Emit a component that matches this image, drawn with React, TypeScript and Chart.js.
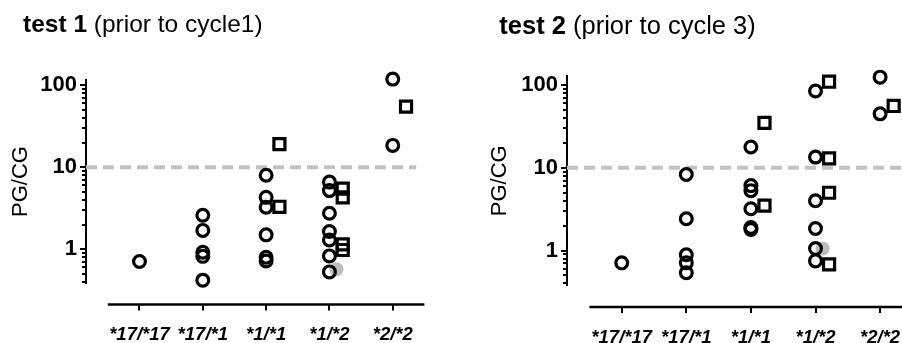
import React, { useEffect, useRef } from "react";
import { Chart, registerables } from "chart.js";

Chart.register(...registerables);

// ---------- data ----------
const categories = ["*17/*17", "*17/*1", "*1/*1", "*1/*2", "*2/*2"];
const yMajorTicks = [1, 10, 100];
const yMinorTicks = [0.4, 0.5, 0.6, 0.7, 0.8, 0.9, 2, 3, 4, 5, 6, 7, 8, 9, 20, 30, 40, 50, 60, 70, 80, 90];
const threshold = 10;

// test 1 (prior to cycle1)
const test1Circles = [
  [0.71],
  [2.6, 1.7, 0.92, 0.82, 0.42],
  [8.0, 4.3, 3.25, 1.5, 0.8, 0.72],
  [6.6, 5.2, 2.75, 1.65, 1.3, 0.83, 0.53],
  [119, 18.5],
];
const test1Squares = [[], [], [19.2, 3.3], [5.5, 4.3, 1.15, 0.98], [55]];
const test1Grey = [[], [], [], [0.57], []];

// test 2 (prior to cycle 3)
const test2Circles = [
  [0.71],
  [8.3, 2.42, 0.89, 0.71, 0.54],
  [17.9, 6.1, 5.3, 3.2, 1.9, 1.8],
  [85, 13.5, 4.0, 1.85, 1.06, 0.75],
  [125, 45],
];
const test2Squares = [[], [], [34.9, 3.5], [110, 13, 5.0, 0.68], [56]];
const test2Grey = [[], [], [], [1.06], []];

// ---------- styling / layout ----------
const FONT = "'Liberation Sans', Arial, Helvetica, sans-serif";
const SQUARE_OFFSET = 0.21;
const GREY_OFFSET = 0.11;

type PanelProps = {
  circles: number[][];
  squares: number[][];
  grey: number[][];
  titleBold: string;
  titleRest: string;
  left: number;
  width: number;
  padTop: number;
  padRight: number;
  yWidth: number;
  xHeight: number;
  yMin: number;
  yMax: number;
  xMin: number;
  xMax: number;
  dashEnd: number;
  titleX: number;
  titleY: number;
  titleSize: number;
  yTitlePad: number;
};

function toPoints(groups: number[][], offset: number) {
  return groups.flatMap((vals, i) => vals.map((v) => ({ x: i + offset, y: v })));
}

function Panel(p: PanelProps) {
  const ref = useRef<HTMLCanvasElement>(null);
  useEffect(() => {
    if (!ref.current) return;
    const axesPlugin = {
      id: "axesExtra",
      afterDraw(chart: any) {
        const { ctx, chartArea, scales } = chart;
        const x = scales.x;
        const y = scales.y;
        ctx.save();
        ctx.strokeStyle = "#000";
        // y minor/major tick marks
        ctx.lineWidth = 2;
        for (const v of yMinorTicks) {
          const py = Math.round(y.getPixelForValue(v));
          ctx.beginPath();
          ctx.moveTo(chartArea.left, py);
          ctx.lineTo(chartArea.left - 4, py);
          ctx.stroke();
        }
        for (const v of yMajorTicks) {
          const py = Math.round(y.getPixelForValue(v));
          ctx.beginPath();
          ctx.moveTo(chartArea.left, py);
          ctx.lineTo(chartArea.left - 6, py);
          ctx.stroke();
        }
        // detached x axis
        const axisY = chartArea.bottom + 21.5;
        ctx.lineWidth = 2.5;
        ctx.beginPath();
        ctx.moveTo(x.getPixelForValue(-0.5), axisY);
        ctx.lineTo(x.getPixelForValue(categories.length - 0.5), axisY);
        ctx.stroke();
        ctx.lineWidth = 2;
        categories.forEach((_, i) => {
          const px = Math.round(x.getPixelForValue(i));
          ctx.beginPath();
          ctx.moveTo(px, axisY);
          ctx.lineTo(px, axisY + 6);
          ctx.stroke();
        });
        // title
        ctx.fillStyle = "#000";
        ctx.textBaseline = "alphabetic";
        ctx.textAlign = "left";
        ctx.font = `bold ${p.titleSize}px ${FONT}`;
        ctx.fillText(p.titleBold, p.titleX, p.titleY);
        const w = ctx.measureText(p.titleBold).width;
        ctx.font = `${p.titleSize}px ${FONT}`;
        ctx.fillText(p.titleRest, p.titleX + w, p.titleY);
        ctx.restore();
      },
    };

    const chart = new Chart(ref.current, {
      type: "scatter",
      data: {
        datasets: [
          {
            type: "line",
            data: [
              { x: p.xMin, y: threshold },
              { x: p.dashEnd, y: threshold },
            ],
            borderColor: "#c2c2c2",
            borderWidth: 4,
            borderDash: [11, 6],
            pointRadius: 0,
            order: 4,
          } as any,
          {
            data: toPoints(p.grey, GREY_OFFSET),
            backgroundColor: "#bdbdbd",
            borderWidth: 0,
            pointRadius: 7,
            order: 3,
          },
          {
            data: toPoints(p.squares, SQUARE_OFFSET),
            pointStyle: "rect",
            backgroundColor: "rgba(0,0,0,0)",
            borderColor: "#000",
            borderWidth: 3.2,
            pointRadius: 7.8,
            order: 2,
          },
          {
            data: toPoints(p.circles, 0),
            pointStyle: "circle",
            backgroundColor: "rgba(0,0,0,0)",
            borderColor: "#000",
            borderWidth: 3.2,
            pointRadius: 5.9,
            order: 1,
          },
        ],
      },
      options: {
        responsive: false,
        animation: false,
        devicePixelRatio: 1,
        layout: { padding: { top: p.padTop, right: p.padRight, left: 0, bottom: 0 } },
        plugins: { legend: { display: false }, tooltip: { enabled: false } },
        elements: { point: { hoverRadius: 0 } },
        datasets: { scatter: { clip: false } as any, line: { clip: false } as any },
        scales: {
          x: {
            type: "linear",
            min: p.xMin,
            max: p.xMax,
            grid: { display: false, drawTicks: true, tickLength: 41 },
            border: { display: false },
            afterBuildTicks: (s: any) => {
              s.ticks = categories.map((_, i) => ({ value: i }));
            },
            afterFit: (s: any) => {
              s.height = p.xHeight;
            },
            ticks: {
              autoSkip: false,
              maxRotation: 0,
              padding: 0,
              color: "#000",
              font: { family: FONT, size: 18.5, weight: "bold", style: "italic" },
              callback: (v: any) => categories[v as number] ?? "",
            },
          },
          y: {
            type: "logarithmic",
            min: p.yMin,
            max: p.yMax,
            grid: { display: false, drawTicks: true, tickLength: 5 },
            border: { display: true, color: "#000", width: 2 },
            afterBuildTicks: (s: any) => {
              s.ticks = yMajorTicks.map((v) => ({ value: v }));
            },
            afterFit: (s: any) => {
              s.width = p.yWidth;
            },
            ticks: {
              autoSkip: false,
              padding: 4,
              color: "#000",
              font: { family: FONT, size: 22, weight: "bold" },
              callback: (v: any) => String(v),
            },
            title: {
              display: true,
              text: "PG/CG",
              color: "#000",
              font: { family: FONT, size: 22 },
              padding: { top: p.yTitlePad, bottom: 0 },
            },
          },
        },
      },
      plugins: [axesPlugin],
    } as any);
    return () => chart.destroy();
  }, []);
  return (
    <canvas
      ref={ref}
      width={p.width}
      height={343}
      style={{ position: "absolute", left: p.left, top: 0, width: p.width, height: 343 }}
    />
  );
}

export default function App() {
  return (
    <div
      style={{
        position: "absolute",
        left: 0,
        top: 0,
        width: 902,
        height: 343,
        overflow: "hidden",
        background: "#fff",
      }}
    >
      <Panel
        circles={test1Circles}
        squares={test1Squares}
        grey={test1Grey}
        titleBold="test 1"
        titleRest=" (prior to cycle1)"
        left={0}
        width={451}
        padTop={80}
        padRight={26.6}
        yWidth={86}
        xHeight={60}
        yMin={0.388}
        yMax={116}
        xMin={-0.845}
        xMax={4.5}
        dashEnd={4.37}
        titleX={23}
        titleY={32}
        titleSize={24.5}
        yTitlePad={8}
      />
      <Panel
        circles={test2Circles}
        squares={test2Squares}
        grey={test2Grey}
        titleBold="test 2"
        titleRest=" (prior to cycle 3)"
        left={480}
        width={460}
        padTop={76}
        padRight={27.6}
        yWidth={87}
        xHeight={57.5}
        yMin={0.378}
        yMax={129}
        xMin={-0.847}
        xMax={4.5}
        dashEnd={4.5}
        titleX={19.3}
        titleY={33.5}
        titleSize={25.5}
        yTitlePad={6.5}
      />
    </div>
  );
}
